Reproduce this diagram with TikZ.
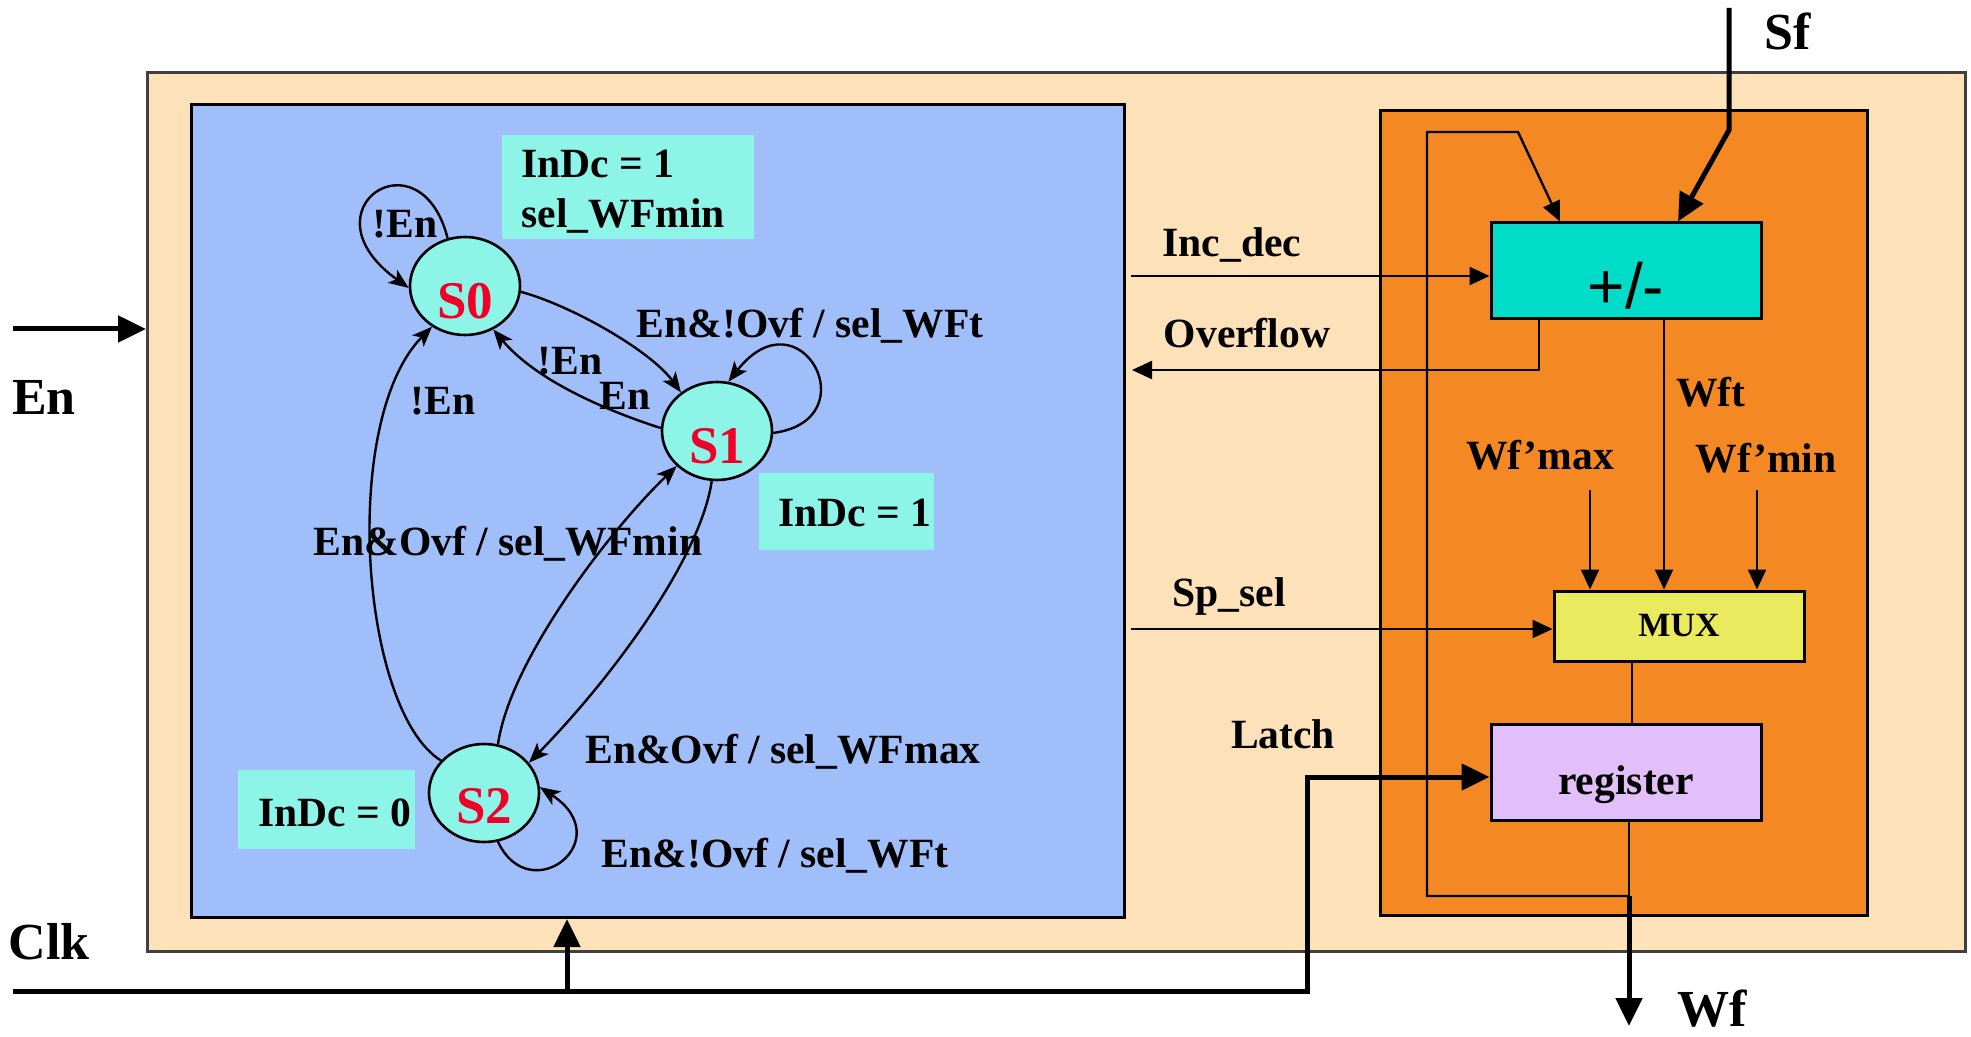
\documentclass[tikz,border=0pt]{standalone}
\usepackage{fontspec}
\setmainfont{Liberation Serif}
\newfontfamily\arialfont{Liberation Sans}
\usetikzlibrary{arrows.meta,shapes.geometric,calc}
\definecolor{peach}{RGB}{252,225,185}
\definecolor{fsmblue}{RGB}{160,190,250}
\definecolor{dporange}{RGB}{244,137,36}
\definecolor{addcyan}{RGB}{0,220,200}
\definecolor{statecyan}{RGB}{140,245,232}
\definecolor{muxyellow}{RGB}{233,234,94}
\definecolor{reglilac}{RGB}{226,190,250}
\definecolor{statered}{RGB}{240,0,40}
\begin{document}
\begin{tikzpicture}[x=0.5pt,y=-0.5pt,
  lbl/.style={font=\fontsize{20.8}{25}\selectfont\bfseries,inner sep=0pt,anchor=base},
  biglbl/.style={font=\fontsize{26}{30}\selectfont\bfseries,inner sep=0pt,anchor=base},
  fsmname/.style={text=statered,font=\fontsize{26.5}{30}\selectfont\bfseries,inner sep=0pt},
  fsmstate/.style={ellipse,draw,line width=1.3pt,fill=statecyan,minimum width=55pt,minimum height=49pt,inner sep=0pt},
  panel/.style={draw,line width=1.5pt,anchor=north west,inner sep=0pt},
  block/.style={draw,line width=1.5pt,inner sep=0pt},
  infobox/.style={fill=statecyan,inner sep=0pt},
  fsmedge/.style={line width=1.2pt,-{Stealth[length=10pt,width=8pt,inset=2.5pt]}},
  wire/.style={line width=1.2pt},
  wirearr/.style={wire,-{Triangle[length=10pt,width=9pt]}},
  bigwire/.style={line width=2.5pt},
  bigarr/.style={bigwire,-{Triangle[length=14pt,width=13pt]}}
]
\useasboundingbox (0,0) rectangle (1971,1037);

% panels
\node[panel,draw=black!75,fill=peach,minimum width=909pt,minimum height=439.5pt] (outer) at (146,71) {};
\node[panel,fill=fsmblue,minimum width=466.5pt,minimum height=406.5pt] (blue) at (190,103) {};
\node[panel,fill=dporange,minimum width=243.5pt,minimum height=402.5pt] (orange) at (1379,109) {};

% info boxes
\node[infobox,minimum width=126pt,minimum height=52pt] (boxa) at (628,187) {};
\node[infobox,minimum width=87.5pt,minimum height=38.5pt] (boxb) at (846.5,511.5) {};
\node[infobox,minimum width=88.5pt,minimum height=39.5pt] (boxc) at (326.5,809.5) {};
\node[lbl,anchor=base west] (ta1) at (521,178) {InDc = 1};
\node[lbl,anchor=base west] (ta2) at (521,228) {sel\_WFmin};
\node[lbl] (tb) at (855,527) {InDc = 1};
\node[lbl] (tc) at (335,826) {InDc = 0};

% states
\node[fsmstate,label={[fsmname,yshift=-7.5pt]center:S0}] (s0) at (465,286) {};
\node[fsmstate,label={[fsmname,yshift=-7.5pt]center:S1}] (s1) at (717,431) {};
\node[fsmstate,label={[fsmname,yshift=-6.5pt]center:S2}] (s2) at (484,793) {};

% fsm edges
\draw[fsmedge] (s0.110) .. controls (420,130) and (300,210) .. (s0.182);
\draw[fsmedge] (s0.-6) .. controls (570,305) and (650,350) .. (s1.133);
\draw[fsmedge] (s1.177) .. controls (620,415) and (540,385) .. (s0.-57);
\draw[fsmedge] (s1.-2) .. controls (870,420) and (800,290) .. (s1.77);
\draw[fsmedge] (s2.143) .. controls (360,710) and (340,420) .. (s0.231);
\draw[fsmedge] (s2.74) .. controls (510,660) and (610,530) .. (s1.221);
\draw[fsmedge] (s1.264) .. controls (700,560) and (610,680) .. (s2.34);
\draw[fsmedge] (s2.286) .. controls (530,910) and (620,840) .. (s2.6);

% fsm labels
\node[lbl] (l1) at (405,238) {!En};
\node[lbl] (l2) at (810,338) {En\&!Ovf / sel\_WFt};
\node[lbl] (l3) at (570,375) {!En};
\node[lbl] (l4) at (625,410) {En};
\node[lbl] (l5) at (443,415) {!En};
\node[lbl] (l6) at (508,555) {En\&Ovf / sel\_WFmin};
\node[lbl] (l7) at (783,763) {En\&Ovf / sel\_WFmax};
\node[lbl] (l8) at (775,867) {En\&!Ovf / sel\_WFt};

% datapath blocks
\node[block,fill=addcyan,minimum width=135pt,minimum height=48pt,
  label={[inner sep=0pt,font=\fontsize{32}{36}\selectfont\arialfont,yshift=-7.5pt]center:+/-}] (add) at (1626,271) {};
\node[block,fill=muxyellow,minimum width=125pt,minimum height=35pt,font=\fontsize{17}{20}\selectfont\bfseries] (mux) at (1679,626) {MUX};
\node[block,fill=reglilac,minimum width=135pt,minimum height=48pt,
  label={[inner sep=0pt,font=\fontsize{20.8}{25}\selectfont\bfseries,yshift=-6.5pt]center:register}] (reg) at (1626,772) {};

% wires
\coordinate (incs) at (1131,276);
\draw[wirearr] (incs) -- (incs -| add.west);
\coordinate (ovfe) at (1132,370);
\draw[wirearr] ($(add.south)+(-87,0)$) |- (ovfe);
\draw[wirearr] ($(add.south)+(38,0)$) -- ($(mux.north)+(-15,0)$);
\coordinate (wmax) at (1590,490);
\draw[wirearr] (wmax) -- (wmax |- mux.north);
\coordinate (wmin) at (1757,490);
\draw[wirearr] (wmin) -- (wmin |- mux.north);
\coordinate (sps) at (1131,629);
\draw[wirearr] (sps) -- (sps -| mux.west);
\draw[wire] ($(mux.south)+(-47,0)$) -- ($(reg.north)+(6,0)$);
\coordinate (wfj) at (1629,896);
\coordinate (wfend) at (1629,1026);
\draw[wire] ($(reg.south)+(3,0)$) -- (wfj);
\coordinate (fb1) at (1427,896);
\coordinate (fb2) at (1427,132);
\coordinate (fb3) at (1518,132);
\draw[wirearr] (wfj) -- (fb1) -- (fb2) -- (fb3) -- ($(add.north)+(-66,0)$);
\draw[bigarr] (wfj) -- (wfend);
\coordinate (sft) at (1729,8);
\coordinate (sfb) at (1729,130);
\draw[bigarr] (sft) -- (sfb) -- ($(add.north)+(52,0)$);
\coordinate (clk0) at (13,991);
\coordinate (lc) at (1307,777);
\draw[bigarr] (clk0) -| (lc) -- (lc -| reg.west);
\coordinate (clkup) at (567,991);
\draw[bigarr] (clkup) -- (clkup |- blue.south);
\coordinate (en0) at (13,329);
\draw[bigarr] (en0) -- (en0 -| outer.west);

% datapath labels
\node[lbl] (inc) at (1232,257) {Inc\_dec};
\node[lbl] (ovf) at (1247,348) {Overflow};
\node[lbl] (wft) at (1711,407) {Wft};
\node[lbl] (wfmax) at (1540,470) {Wf’max};
\node[lbl] (wfmin) at (1766,473) {Wf’min};
\node[lbl] (spsel) at (1229,606) {Sp\_sel};
\node[lbl] (latch) at (1283,748) {Latch};
\node[biglbl] (sf) at (1788,50) {Sf};
\node[biglbl] (wf) at (1712,1026) {Wf};
\node[biglbl] (en) at (44,415) {En};
\node[biglbl] (clk) at (49,959) {Clk};
\end{tikzpicture}
\end{document}
